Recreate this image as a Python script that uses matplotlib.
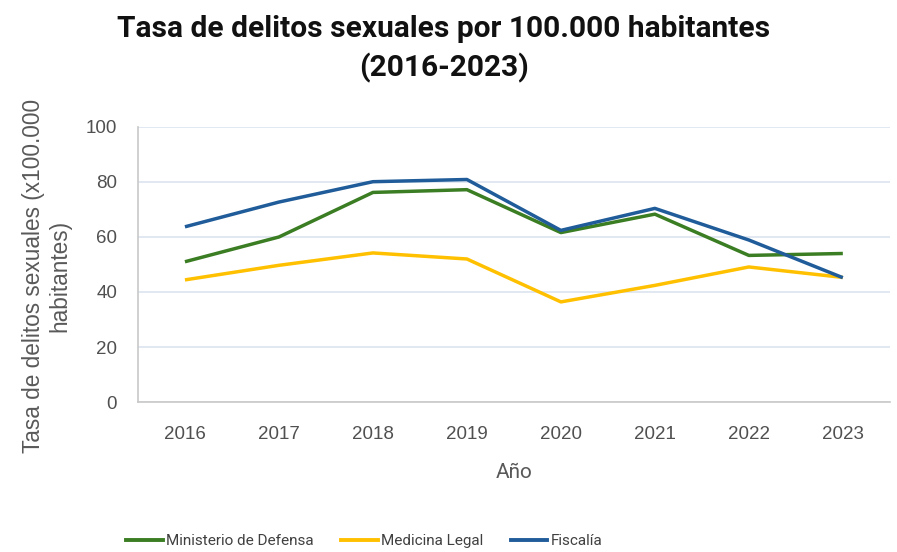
import matplotlib.pyplot as plt
from matplotlib.lines import Line2D

# datos
years = ['2016', '2017', '2018', '2019', '2020', '2021', '2022', '2023']
ministerio = [51.0, 60.0, 76.2, 77.2, 61.6, 68.3, 53.3, 54.0]
medicina = [44.4, 49.7, 54.2, 52.0, 36.4, 42.4, 49.1, 45.3]
fiscalia = [63.7, 72.7, 80.1, 80.9, 62.4, 70.4, 58.9, 45.2]

series_names = ['Ministerio de Defensa', 'Medicina Legal', 'Fiscalía']
colors = ['#3B7D23', '#FFC000', '#1F5C99']

narrow = ['Roboto', 'DejaVu Sans']
plain = ['Liberation Sans', 'DejaVu Sans']

fig = plt.figure(figsize=(8.97, 5.52), dpi=100)
ax = fig.add_axes([0.1538, 0.2717, 0.8382, 0.4983])

x = range(len(years))
for vals, c in zip([ministerio, medicina, fiscalia], colors):
    ax.plot(x, vals, color=c, linewidth=2.5, solid_capstyle='butt', zorder=3)

ax.set_xlim(-0.5, len(years) - 0.5)
ax.set_ylim(0, 100)
ax.set_yticks(range(0, 101, 20))
ax.set_xticks(list(x))
ax.set_xticklabels(years)

ax.grid(axis='y', color='#DCE4F0', linewidth=1.2, zorder=0)
for s in ['top', 'right']:
    ax.spines[s].set_visible(False)
for s in ['left', 'bottom']:
    ax.spines[s].set_color('#C8C8C8')
    ax.spines[s].set_linewidth(1.2)
ax.tick_params(length=0, colors='#505050')
ax.tick_params(axis='y', pad=15)
ax.tick_params(axis='x', pad=17)
for lab in ax.get_xticklabels() + ax.get_yticklabels():
    lab.set_family(plain)
    lab.set_fontsize(13.5)

ax.set_xlabel('Año', family=narrow, fontsize=15, color='#595959', labelpad=15)
fig.text(0.052, 0.5, 'Tasa de delitos sexuales (x100.000\nhabitantes)', rotation=90,
         ha='center', va='center', family=plain, fontsize=16.3, color='#595959',
         linespacing=1.2)

fig.text(0.495, 0.911, 'Tasa de delitos sexuales por 100.000 habitantes\n(2016-2023)',
         ha='center', va='center', family=narrow, fontsize=21.5, fontweight='semibold',
         color='#111111', linespacing=1.45)

handles = [Line2D([0], [0], color=c, linewidth=2.8) for c in colors]
fig.legend(handles, series_names, loc='center', bbox_to_anchor=(0.406, 0.02), ncol=3,
           frameon=False, prop={'family': narrow, 'size': 11}, handlelength=2.4,
           handletextpad=0.2, columnspacing=1.8, labelcolor='#404040')

fig.savefig('out.png', dpi=100)
